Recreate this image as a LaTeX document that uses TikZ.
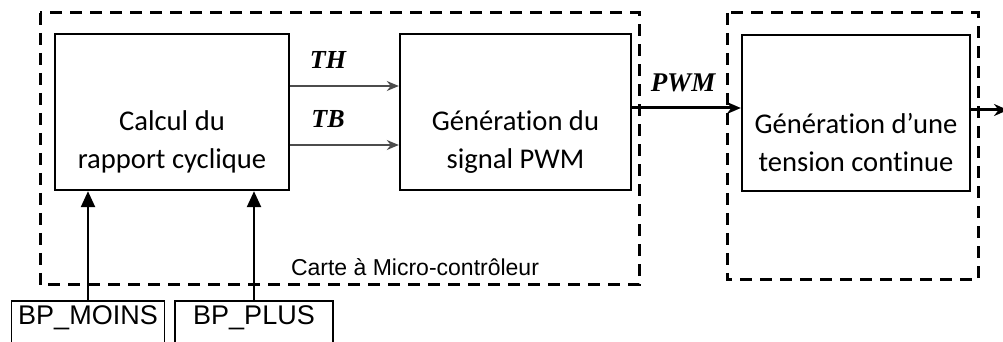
\documentclass[tikz,border=0pt]{standalone}
\usepackage{fontspec}
\usepackage{amsmath}
\usetikzlibrary{arrows.meta}
\newfontfamily\boxfont[RawFeature={-liga;-clig;-dlig;-calt}]{Carlito}
\newfontfamily\bpfont{Liberation Sans}
\newfontfamily\sigfont{Liberation Serif}
\begin{document}
\begin{tikzpicture}[x=0.5pt,y=-0.5pt,
  blockbox/.style={draw,line width=1.2pt,minimum height=78pt},
  blocktext/.style={align=center,font=\boxfont\fontsize{14.3}{19}\selectfont},
  cardbox/.style={line width=1.5pt,dash pattern=on 6pt off 4pt},
  sig/.style={draw=black!70,line width=0.7pt,-{Stealth[length=6pt,width=5pt]}},
  siglabel/.style={font=\sigfont\bfseries\itshape\fontsize{13}{15}\selectfont},
  pwmarrow/.style={line width=1.5pt,-{Stealth[length=7pt,width=6pt]}},
  uparrow/.style={line width=1.2pt,-{Triangle[length=8pt,width=7pt]}},
  bpbox/.style={draw,line width=0.8pt,inner sep=2.5pt,text depth=30pt,font=\bpfont\fontsize{13.5}{16}\selectfont}]

\useasboundingbox (0,0) rectangle (1003,342);
\clip (0,0) rectangle (1003,342);

% cartes
\draw[cardbox] (40,13) rectangle (639,285);
\draw[cardbox] (727,13) rectangle (978,280);
\node[font=\bpfont\fontsize{11.5}{13}\selectfont] (carte) at (415,267) {Carte à Micro-contrôleur};

% blocs
\node[blockbox,minimum width=117pt] (calc) at (172,112) {};
\node[blocktext] (calctxt) at ([yshift=-15pt]calc.center) {Calcul du\\rapport cyclique};

\node[blockbox,minimum width=115.5pt] (genpwm) at (515.5,112) {};
\node[blocktext] (genpwmtxt) at ([yshift=-15pt]genpwm.center) {Génération du\\signal PWM};

\node[blockbox,minimum width=114pt] (gentension) at (856,113) {};
\node[blocktext] (gentensiontxt) at ([yshift=-15pt]gentension.center) {Génération d’une\\tension continue};

% signaux
\draw[sig] (calc.east |- 0,86) -- (genpwm.west |- 0,86);
\draw[sig] (calc.east |- 0,145) -- (genpwm.west |- 0,145);
\node[siglabel] (th) at (328,60) {TH};
\node[siglabel] (tb) at (328,119) {TB};

\draw[pwmarrow] (genpwm.east |- 0,108) -- (gentension.west |- 0,108);
\node[siglabel,font=\sigfont\bfseries\itshape\fontsize{13.5}{15}\selectfont] (pwm) at (683,83) {PWM};

\coordinate (sortie) at (1008,110);
\draw[pwmarrow] (gentension.east |- sortie) -- (sortie);

% boutons
\node[bpbox,anchor=north,minimum width=76.5pt] (moins) at (88,300) {BP\_MOINS};
\node[bpbox,anchor=north,minimum width=79pt] (plus) at (254,300) {BP\_PLUS};
\draw[uparrow] (moins.north) -- (moins.north |- calc.south);
\draw[uparrow] (plus.north) -- (plus.north |- calc.south);
\end{tikzpicture}
\end{document}
